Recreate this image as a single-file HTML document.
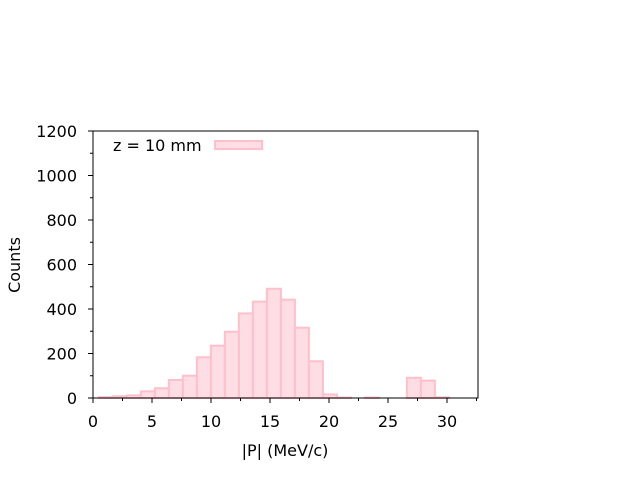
<!DOCTYPE html>
<html><head><meta charset="utf-8"><style>
body{margin:0;background:#fff;width:640px;height:480px;overflow:hidden}
svg{font-family:"DejaVu Sans","Liberation Sans",sans-serif}
</style></head><body>
<svg id="c" width="640" height="480"></svg>
<script>
const binStart = 0.5;
const binWidth = 1.1864;
const counts = [4, 8, 12, 30, 44, 81, 100, 183, 235, 298, 380, 433, 491, 442, 316, 165, 16, 2, 0, 2, 0, 0, 91, 78, 3];
const xTicks = [0, 5, 10, 15, 20, 25, 30];
const yTicks = [0, 200, 400, 600, 800, 1000, 1200];
const NS = "http://www.w3.org/2000/svg";
const svg = document.getElementById('c');
const L = 93, R = 478, T = 131, B = 398;
const xs = v => L + v * (354 / 30);
const ys = v => B - v * ((B - T) / 1200);
function mk(tag, attrs, parent) {
  const e = document.createElementNS(NS, tag);
  for (const k in attrs) e.setAttribute(k, attrs[k]);
  (parent || svg).appendChild(e);
  return e;
}
const bars = mk('g', {});


counts.forEach((c, i) => {
  if (c <= 0) return;
  const x0 = xs(binStart + i * binWidth), x1 = xs(binStart + (i + 1) * binWidth);
  const r = mk('rect', {x: x0, y: ys(c), width: x1 - x0, height: B - ys(c), fill: '#ffdde4', stroke: '#ffc0cb', 'stroke-width': 2}, bars);
  
  
});
const frame = mk('rect', {x: L, y: T, width: R - L, height: B - T, fill: 'none', stroke: '#000', 'stroke-width': 1});


xTicks.forEach(v => {
  const x = xs(v);
  mk('line', {x1: x, x2: x, y1: B, y2: B + 5, stroke: '#000'});
  const t = mk('text', {x: x, y: B + 29, 'text-anchor': 'middle', 'font-size': 16});
  t.textContent = v;
  
  
});
for (let v = 2.5; v < 32.6; v += 5) { const x = xs(v); mk('line', {x1: x, x2: x, y1: B, y2: B + 3, stroke: '#000'}); }
yTicks.forEach(v => {
  const y = ys(v);
  mk('line', {x1: L - 5, x2: L, y1: y, y2: y, stroke: '#000'});
  const t = mk('text', {x: L - 16, y: y + 6, 'text-anchor': 'end', 'font-size': 16});
  t.textContent = v;
  
  
});
for (let v = 100; v < 1200; v += 200) { const y = ys(v); mk('line', {x1: L - 3, x2: L, y1: y, y2: y, stroke: '#000'}); }
const xl = mk('text', {x: 285, y: 456, 'text-anchor': 'middle', 'font-size': 16});
xl.textContent = '|P| (MeV/c)';


const yl = mk('text', {x: 20, y: 265, 'text-anchor': 'middle', 'font-size': 16, transform: 'rotate(-90 20 265)'});
yl.textContent = 'Counts';


const lg = mk('g', {});


const lt = mk('text', {x: 113, y: 151, 'font-size': 16}, lg);
lt.textContent = 'z = 10 mm';
mk('rect', {x: 215, y: 141, width: 47, height: 8, fill: '#ffdde4', stroke: '#ffc0cb', 'stroke-width': 2}, lg);
</script>
</body></html>
